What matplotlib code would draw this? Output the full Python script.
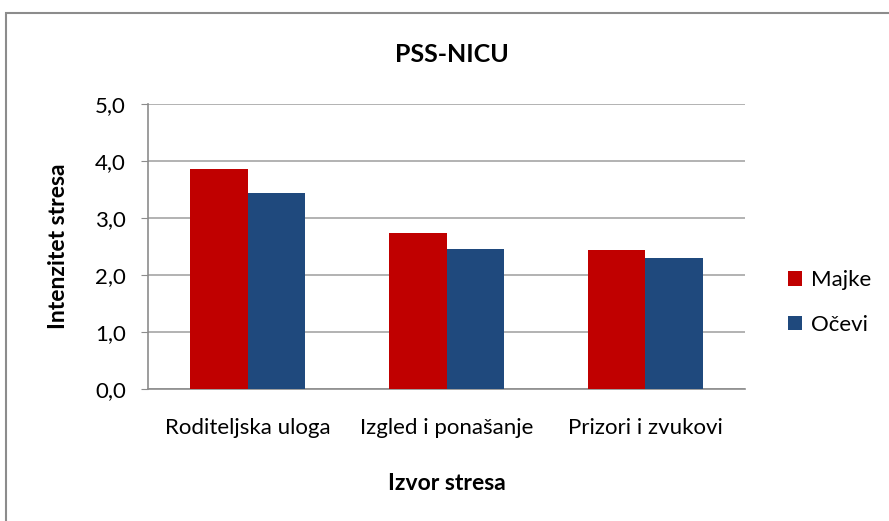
import numpy as np
import matplotlib
matplotlib.use('Agg')
import matplotlib.pyplot as plt
from matplotlib.patches import Rectangle
from matplotlib.ticker import FuncFormatter

categories = ['Roditeljska uloga', 'Izgled i ponašanje', 'Prizori i zvukovi']
majke = [3.86, 2.73, 2.44]
ocevi = [3.43, 2.45, 2.30]
series_names = ['Majke', 'Očevi']
colors = ['#C00000', '#1F497D']

plt.rcParams['font.family'] = ['Lato', 'DejaVu Sans']

fig = plt.figure(figsize=(8.89, 5.21), dpi=100)
ax = fig.add_axes([0.1665, 0.2534, 0.6715, 0.547])

# okvir oko grafikona
fig.patches.append(Rectangle((6 / 889, -0.1), 1.2, 1.1 - 13 / 521, transform=fig.transFigure,
                             fill=False, edgecolor='#8c8c8c', linewidth=1.5))

x = np.arange(len(categories))
w = 0.2875
ax.bar(x - w / 2, majke, w, color=colors[0], label=series_names[0], zorder=3)
ax.bar(x + w / 2, ocevi, w, color=colors[1], label=series_names[1], zorder=3)

ax.set_xlim(-0.5, 2.5)
ax.set_ylim(0, 5)
ax.set_yticks(np.arange(0, 5.01, 1.0))
ax.yaxis.set_major_formatter(FuncFormatter(lambda v, p: f'{v:.1f}'.replace('.', ',')))
ax.set_xticks(x)
ax.set_xticklabels(categories, fontsize=16)
ax.tick_params(axis='y', labelsize=16, length=5, color='#8c8c8c', pad=11)
ax.tick_params(axis='x', length=0, pad=21)
ax.grid(axis='y', color='#a6a6a6', linewidth=1.2, zorder=0)

for s in ['top', 'right']:
    ax.spines[s].set_visible(False)
for s in ['left', 'bottom']:
    ax.spines[s].set_color('#8c8c8c')
    ax.spines[s].set_linewidth(1.2)

fig.text(452 / 889, 1 - 55 / 521, 'PSS-NICU', fontsize=18, fontweight='bold', ha='center', va='center')
fig.text(447 / 889, 1 - 483 / 521, 'Izvor stresa', fontsize=16.5, fontweight='bold', ha='center', va='center')
fig.text(59 / 889, 1 - 246 / 521, 'Intenzitet stresa', fontsize=16.5, fontweight='bold', ha='center', va='center',
         rotation=90)

ax.legend(loc='center left', bbox_to_anchor=(788 / 889, 1 - 302.5 / 521), bbox_transform=fig.transFigure,
          frameon=False, fontsize=16, borderpad=0, borderaxespad=0,
          handlelength=0.65, handleheight=0.65, labelspacing=1.1, handletextpad=0.4)

fig.savefig('out.png', dpi=100)
